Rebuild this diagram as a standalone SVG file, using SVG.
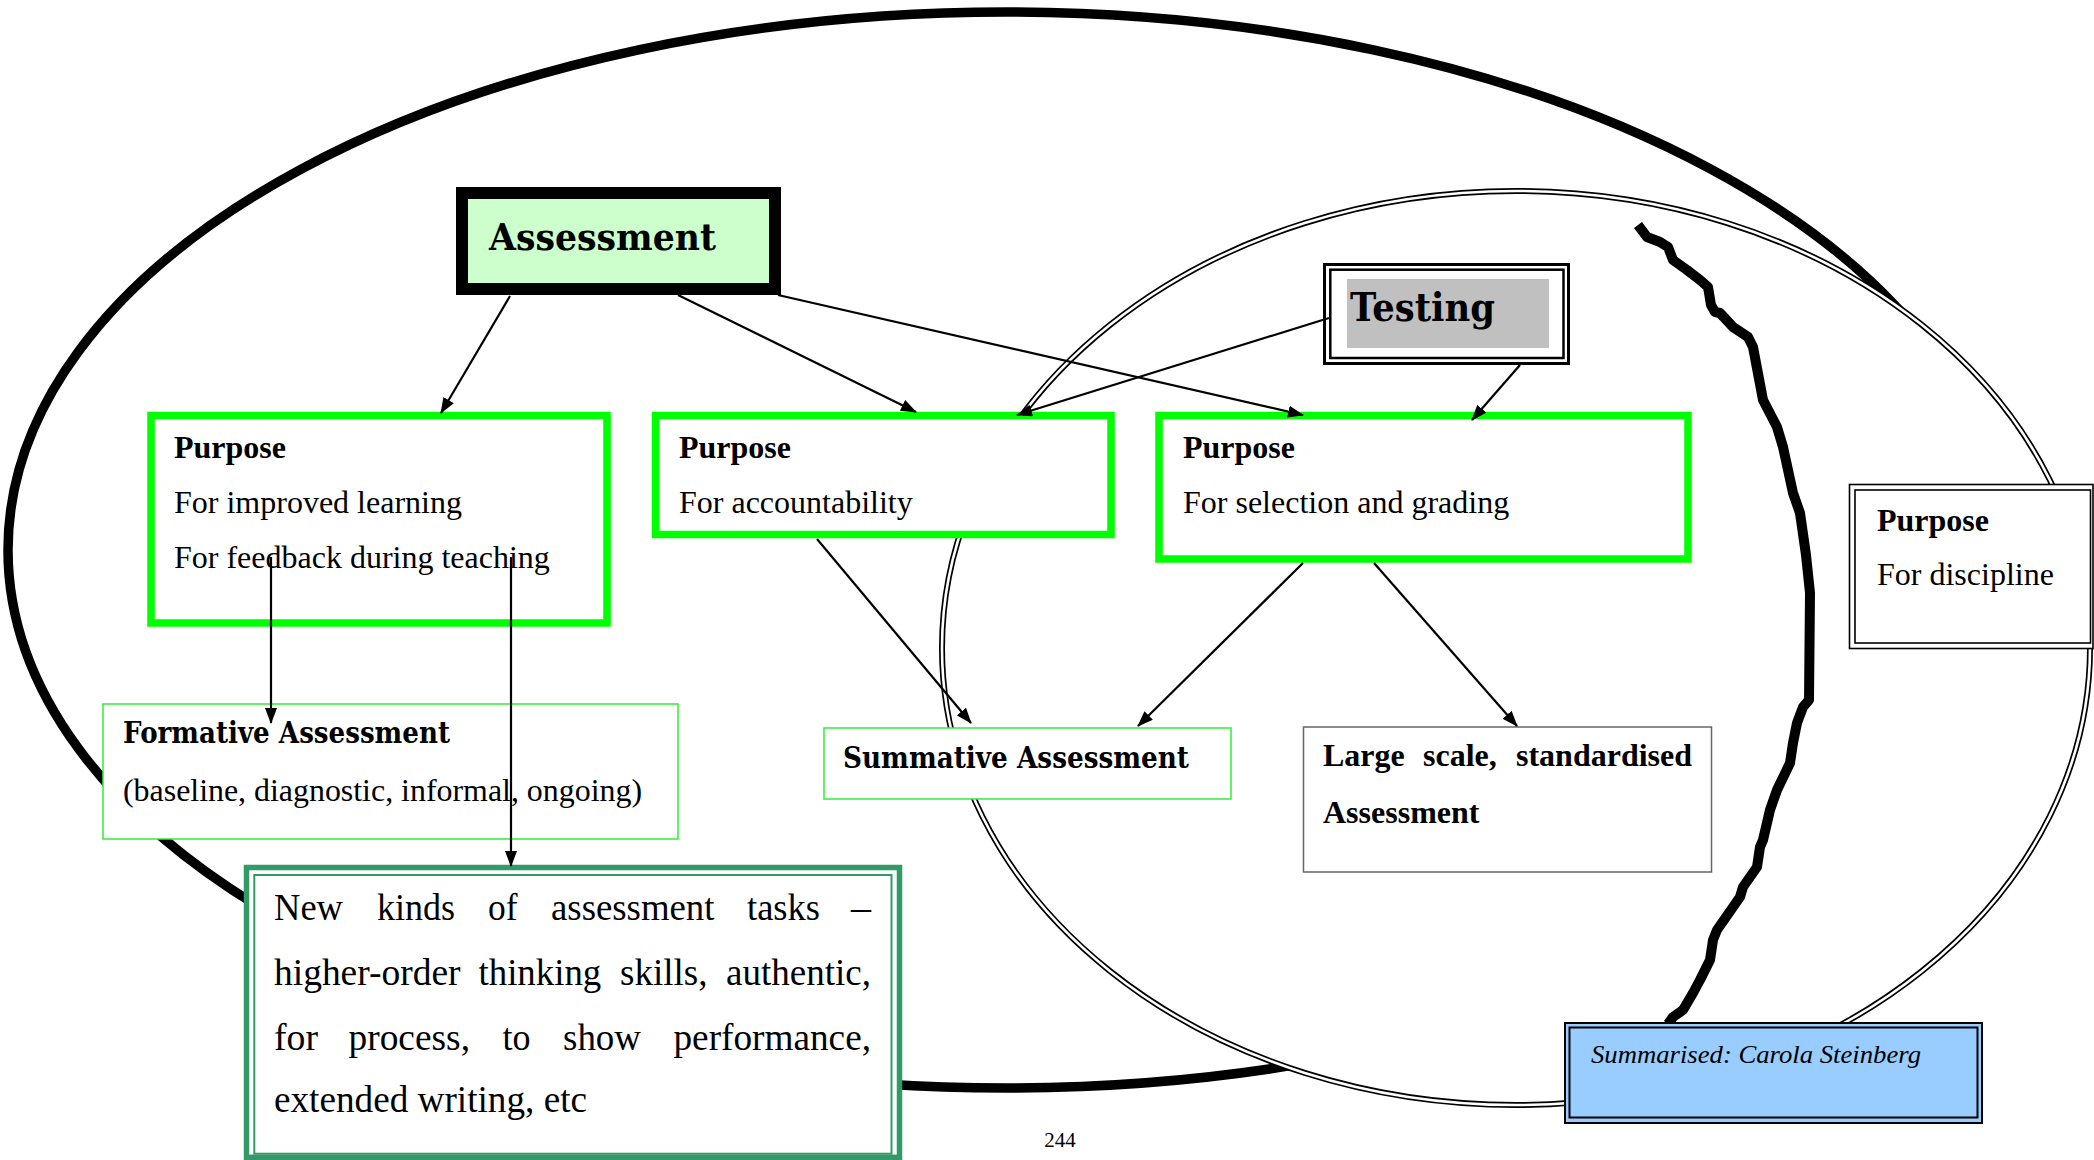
<svg xmlns="http://www.w3.org/2000/svg" width="2094" height="1160" viewBox="0 0 2094 1160">
  <style>
    .serif { font-family: "Liberation Serif", "Times New Roman", serif; fill: #000; }
    .pal { font-family: "DejaVu Serif", "Liberation Serif", serif; font-weight: bold; fill: #000; }
    .b { font-weight: bold; }
    .t32 { font-size: 32px; }
    .t36 { font-size: 37px; }
    .purpose { fill: #fff; stroke: #00ff00; stroke-width: 7.5; }
    .thin-green { fill: #fff; stroke: #33ee33; stroke-width: 1.5; }
    .conn { stroke: #000; stroke-width: 2.2; fill: none; }
  </style>
  <defs>
    <marker id="arrow" viewBox="0 0 16 12" refX="15" refY="6" markerWidth="16" markerHeight="12" markerUnits="userSpaceOnUse" orient="auto">
      <path d="M0,0 L16,6 L0,12 z" fill="#000"/>
    </marker>
  </defs>

  <rect width="2094" height="1160" fill="#fff"/>

  <!-- outer assessment ellipse -->
  <g id="assessment-field">
    <ellipse cx="1006" cy="550" rx="998" ry="538" fill="none" stroke="#000" stroke-width="9.5"/>
  </g>

  <!-- testing field: double-lined ellipse, white inside -->
  <g id="testing-field">
    <ellipse cx="1516" cy="648" rx="574" ry="457" fill="#fff" stroke="#000" stroke-width="6"/>
    <ellipse cx="1516" cy="648" rx="574" ry="457" fill="none" stroke="#fff" stroke-width="2.6"/>
  </g>

  <!-- hand-drawn divider -->
  <g id="divider">
    <polyline fill="none" stroke="#000" stroke-width="10" stroke-linejoin="round" stroke-linecap="butt"
      points="1638,225 1647,237 1660,242 1668,247 1673,260 1687,270 1700,280 1708,287 1711,305 1715,312 1720,313 1733,327 1748,337 1753,347 1763,400 1777,427 1783,447 1793,493 1800,513 1806,555 1810,593 1809,700 1803,707 1797,723 1793,743 1790,763 1777,790 1770,810 1763,840 1760,847 1757,867 1743,887 1740,897 1717,930 1713,940 1710,960 1700,980 1693,993 1683,1010 1673,1017 1668,1024"/>
  </g>

  <!-- Assessment -->
  <g id="node-assessment">
    <rect x="462" y="193" width="313" height="96" fill="#ccffcc" stroke="#000" stroke-width="12"/>
    <text class="pal" x="489" y="250" font-size="38" textLength="227" lengthAdjust="spacingAndGlyphs">Assessment</text>
  </g>

  <!-- Testing -->
  <g id="node-testing">
    <rect x="1324.5" y="264.5" width="244" height="99" fill="#fff" stroke="#000" stroke-width="3"/>
    <rect x="1330.3" y="269.7" width="233.2" height="88.3" fill="none" stroke="#000" stroke-width="2.5"/>
    <rect x="1347" y="279" width="202" height="69" fill="#c0c0c0"/>
    <text class="pal" x="1350" y="321" font-size="40" textLength="145" lengthAdjust="spacingAndGlyphs">Testing</text>
  </g>

  <!-- Purpose: improved learning -->
  <g id="node-purpose-learning">
    <rect class="purpose" x="151" y="415.5" width="456" height="207.5"/>
    <text class="serif b t32" x="174" y="458">Purpose</text>
    <text class="serif t32" x="174" y="513">For improved learning</text>
    <text class="serif t32" x="174" y="568">For feedback during teaching</text>
  </g>

  <!-- Purpose: accountability -->
  <g id="node-purpose-accountability">
    <rect class="purpose" x="655.5" y="415.5" width="455.5" height="119"/>
    <text class="serif b t32" x="679" y="458">Purpose</text>
    <text class="serif t32" x="679" y="513">For accountability</text>
  </g>

  <!-- Purpose: selection -->
  <g id="node-purpose-selection">
    <rect class="purpose" x="1159" y="415.5" width="529" height="143.5"/>
    <text class="serif b t32" x="1183" y="458">Purpose</text>
    <text class="serif t32" x="1183" y="513">For selection and grading</text>
  </g>

  <!-- Purpose: discipline -->
  <g id="node-purpose-discipline">
    <rect x="1849.5" y="484.5" width="243.5" height="164" fill="#fff" stroke="#000" stroke-width="1.6"/>
    <rect x="1855" y="490" width="235.5" height="153" fill="none" stroke="#000" stroke-width="1.6"/>
    <text class="serif b t32" x="1877" y="531">Purpose</text>
    <text class="serif t32" x="1877" y="585">For discipline</text>
  </g>

  <!-- Formative Assessment -->
  <g id="node-formative">
    <rect class="thin-green" x="103" y="704" width="575" height="135"/>
    <text class="pal" x="123" y="743" font-size="29" textLength="327" lengthAdjust="spacingAndGlyphs">Formative Assessment</text>
    <text class="serif t32" x="123" y="801" textLength="519" lengthAdjust="spacingAndGlyphs">(baseline, diagnostic, informal, ongoing)</text>
  </g>

  <!-- Summative Assessment -->
  <g id="node-summative">
    <rect class="thin-green" x="824" y="728" width="407" height="71"/>
    <text class="pal" x="843" y="768" font-size="29" textLength="346" lengthAdjust="spacingAndGlyphs">Summative Assessment</text>
  </g>

  <!-- Large scale, standardised Assessment -->
  <g id="node-large-scale">
    <rect x="1303.5" y="727" width="408" height="145" fill="#fff" stroke="#666" stroke-width="1.5"/>
    <text class="serif b t32" y="766"><tspan x="1323">Large</tspan><tspan x="1423">scale,</tspan><tspan x="1516">standardised</tspan></text>
    <text class="serif b t32" x="1323" y="823">Assessment</text>
  </g>

  <!-- New kinds of assessment tasks (justified, narrow face) -->
  <g id="node-new-tasks">
    <rect x="246.5" y="867.5" width="653" height="289.8" fill="#fff" stroke="#339966" stroke-width="5.5"/>
    <rect x="254.3" y="875" width="637.2" height="278.7" fill="none" stroke="#339966" stroke-width="2"/>
    <g class="serif t36">
      <text x="274" y="920" textLength="69" lengthAdjust="spacingAndGlyphs">New</text>
      <text x="377" y="920" textLength="78" lengthAdjust="spacingAndGlyphs">kinds</text>
      <text x="488" y="920" textLength="29.5" lengthAdjust="spacingAndGlyphs">of</text>
      <text x="551" y="920" textLength="163.5" lengthAdjust="spacingAndGlyphs">assessment</text>
      <text x="747" y="920" textLength="73" lengthAdjust="spacingAndGlyphs">tasks</text>
      <text x="851" y="920" textLength="20" lengthAdjust="spacingAndGlyphs">–</text>

      <text x="274" y="985" textLength="186.5" lengthAdjust="spacingAndGlyphs">higher-order</text>
      <text x="478.5" y="985" textLength="122.7" lengthAdjust="spacingAndGlyphs">thinking</text>
      <text x="620" y="985" textLength="87.5" lengthAdjust="spacingAndGlyphs">skills,</text>
      <text x="726" y="985" textLength="145" lengthAdjust="spacingAndGlyphs">authentic,</text>

      <text x="274" y="1050" textLength="44" lengthAdjust="spacingAndGlyphs">for</text>
      <text x="348.5" y="1050" textLength="121.5" lengthAdjust="spacingAndGlyphs">process,</text>
      <text x="502.5" y="1050" textLength="28" lengthAdjust="spacingAndGlyphs">to</text>
      <text x="563" y="1050" textLength="78" lengthAdjust="spacingAndGlyphs">show</text>
      <text x="673.5" y="1050" textLength="197.5" lengthAdjust="spacingAndGlyphs">performance,</text>

      <text x="274" y="1112" textLength="313" lengthAdjust="spacingAndGlyphs">extended writing, etc</text>
    </g>
  </g>

  <!-- Credit box -->
  <g id="node-credit">
    <rect x="1565" y="1023" width="417" height="100" fill="#99ccff" stroke="#000" stroke-width="2"/>
    <rect x="1569.5" y="1027.5" width="408" height="90" fill="none" stroke="#000" stroke-width="2"/>
    <text class="serif" x="1591" y="1063" font-size="26" font-style="italic" textLength="330" lengthAdjust="spacingAndGlyphs">Summarised: Carola Steinberg</text>
  </g>

  <!-- connectors -->
  <g id="connectors">
    <line class="conn" x1="510" y1="296" x2="441" y2="413" marker-end="url(#arrow)"/>
    <line class="conn" x1="678" y1="295" x2="916" y2="412" marker-end="url(#arrow)"/>
    <line class="conn" x1="778" y1="295" x2="1303" y2="415" marker-end="url(#arrow)"/>
    <line class="conn" x1="1329" y1="318" x2="1017" y2="415" marker-end="url(#arrow)"/>
    <line class="conn" x1="1520" y1="365" x2="1472" y2="420" marker-end="url(#arrow)"/>
    <line class="conn" x1="817" y1="539" x2="971" y2="723" marker-end="url(#arrow)"/>
    <line class="conn" x1="1303" y1="563" x2="1138" y2="726" marker-end="url(#arrow)"/>
    <line class="conn" x1="1374" y1="563" x2="1517" y2="726" marker-end="url(#arrow)"/>
    <line class="conn" x1="271" y1="557" x2="271" y2="723" marker-end="url(#arrow)"/>
    <line class="conn" x1="511" y1="557" x2="511" y2="866" marker-end="url(#arrow)"/>
  </g>

  <!-- page number -->
  <text class="serif" x="1060" y="1147" font-size="21" text-anchor="middle">244</text>
</svg>
